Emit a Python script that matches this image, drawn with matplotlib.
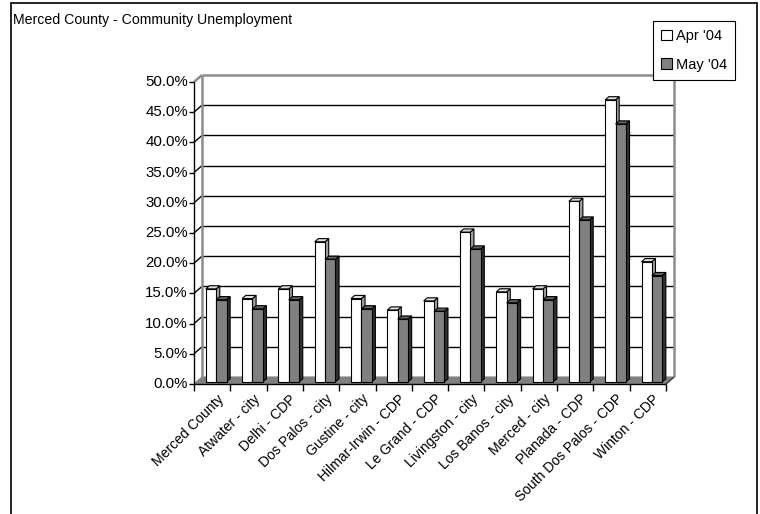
import matplotlib
matplotlib.use('Agg')
import matplotlib.pyplot as plt
from matplotlib.patches import Polygon, Rectangle, Patch
from matplotlib.lines import Line2D

plt.rcParams['font.family'] = ['Liberation Sans', 'DejaVu Sans']

categories = ["Merced County", "Atwater - city", "Delhi - CDP", "Dos Palos - city",
              "Gustine - city", "Hilmar-Irwin - CDP", "Le Grand - CDP", "Livingston - city",
              "Los Banos - city", "Merced - city", "Planada - CDP", "South Dos Palos - CDP",
              "Winton - CDP"]
apr_04 = [15.4, 13.8, 15.4, 23.2, 13.8, 11.9, 13.4, 24.8, 14.9, 15.4, 29.9, 46.7, 19.9]
may_04 = [13.6, 12.1, 13.6, 20.3, 12.1, 10.4, 11.7, 22.0, 13.1, 13.6, 26.8, 42.7, 17.6]
series_names = ["Apr '04", "May '04"]
y_ticks = [0, 5, 10, 15, 20, 25, 30, 35, 40, 45, 50]
title = "Merced County - Community Unemployment"

W, H = 760, 514
fig = plt.figure(figsize=(W / 100, H / 100), dpi=100)
ax = fig.add_axes([194 / W, 1 - 384 / H, (666 - 194) / W, (384 - 82) / H])
n = len(categories)
ax.set_xlim(0, n)
ax.set_ylim(0, 50)
ax.axis('off')

DX, DY = 8.0, 7.0  # wall depth in pixels


def P(x, y, d=0.0, ox=0.0, oy=0.0):
    px = ax.transData.transform((x, y))
    return tuple(ax.transData.inverted().transform((px[0] + d * DX + ox, px[1] + d * DY + oy)))


def poly(pts, fc, ec, lw=0.8, z=2):
    ax.add_patch(Polygon(pts, closed=True, facecolor=fc, edgecolor=ec, linewidth=lw,
                         zorder=z, clip_on=False, joinstyle='miter'))


def line(p0, p1, color, lw=1.0, z=1):
    ax.add_line(Line2D([p0[0], p1[0]], [p0[1], p1[1]], color=color, linewidth=lw,
                       zorder=z, clip_on=False, solid_capstyle='butt'))


ymax = y_ticks[-1]
# floor
poly([P(0, 0, 0), P(n, 0, 0), P(n, 0, 1), P(0, 0, 1)], '#808080', '#808080', lw=0.8, z=1)

# gridlines on back wall + side wall
for v in y_ticks[1:-1]:
    line(P(0, v, 1), P(n, v, 1), 'black', 1.0, 1)
    line(P(0, v, 0), P(0, v, 1), 'black', 1.0, 1)

# wall edges
wall = '#8c8c8c'
line(P(0, 0, 1), P(0, ymax, 1), wall, 1.8, 1.5)
line(P(0, ymax, 1), P(n, ymax, 1), wall, 1.8, 1.5)
line(P(n, 0, 1), P(n, ymax, 1), wall, 1.8, 1.5)
line(P(0, ymax, 0), P(0, ymax, 1), wall, 1.8, 1.5)
line(P(n, 0, 0), P(n, 0, 1), '#404040', 1.0, 1.5)

# axes lines
line(P(0, 0, 0), P(0, ymax, 0), 'black', 1.0, 3)
line(P(0, 0, 0), P(n, 0, 0), 'black', 1.0, 3)

# y ticks and labels
for v in y_ticks:
    line(P(0, v, 0), P(0, v, 0, ox=-5), 'black', 1.0, 3)
    ax.text(*P(0, v, 0, ox=-6), f"{v:.1f}%", ha='right', va='center', fontsize=10.8)

# x ticks
for i in range(n + 1):
    line(P(i, 0, 0), P(i, 0, 0, oy=-7), 'black', 1.0, 3)

# bars
d0, d1 = 0.3, 0.75
styles = [
    dict(front='white', top='#dcdcdc', side='#a0a0a0'),
    dict(front='#808080', top='#606060', side='#303030'),
]
bw = 0.285
start = 0.26
for i in range(n):
    for s, vals in enumerate([apr_04, may_04]):
        v = vals[i]
        x0 = i + start + s * bw
        x1 = x0 + bw
        st = styles[s]
        poly([P(x1, 0, d0), P(x1, 0, d1), P(x1, v, d1), P(x1, v, d0)], st['side'], 'black', 0.8, 4)
        poly([P(x0, v, d0), P(x1, v, d0), P(x1, v, d1), P(x0, v, d1)], st['top'], 'black', 0.8, 4)
        poly([P(x0, 0, d0), P(x1, 0, d0), P(x1, v, d0), P(x0, v, d0)], st['front'], 'black', 0.8, 4)

# category labels
for i, c in enumerate(categories):
    ax.text(*P(i + 0.62, 0, 0, oy=-8), c, ha='right', va='top', rotation=45,
            rotation_mode='anchor', fontsize=10)

# title
fig.text(13 / W, 1 - 20 / H, title, ha='left', va='center', fontsize=10.2)

# chart border
fig.add_artist(Rectangle((11 / W, -0.02), (757 - 11) / W, 1.02 - 3 / H,
                         transform=fig.transFigure, fill=False, edgecolor='black', linewidth=1.2))

# legend
handles = [Patch(facecolor='white', edgecolor='black', linewidth=0.8),
           Patch(facecolor='#808080', edgecolor='black', linewidth=0.8)]
leg = fig.legend(handles=handles, labels=series_names, loc='upper left',
                 bbox_to_anchor=(653 / W, 1 - 21 / H), frameon=True, fancybox=False,
                 edgecolor='black', framealpha=1, fontsize=10.5, handlelength=0.75,
                 handleheight=0.75, handletextpad=0.25, labelspacing=1.0, borderpad=0.55,
                 borderaxespad=0)
leg.get_frame().set_linewidth(0.8)
leg.set_zorder(10)

fig.savefig('out.png', dpi=100)
